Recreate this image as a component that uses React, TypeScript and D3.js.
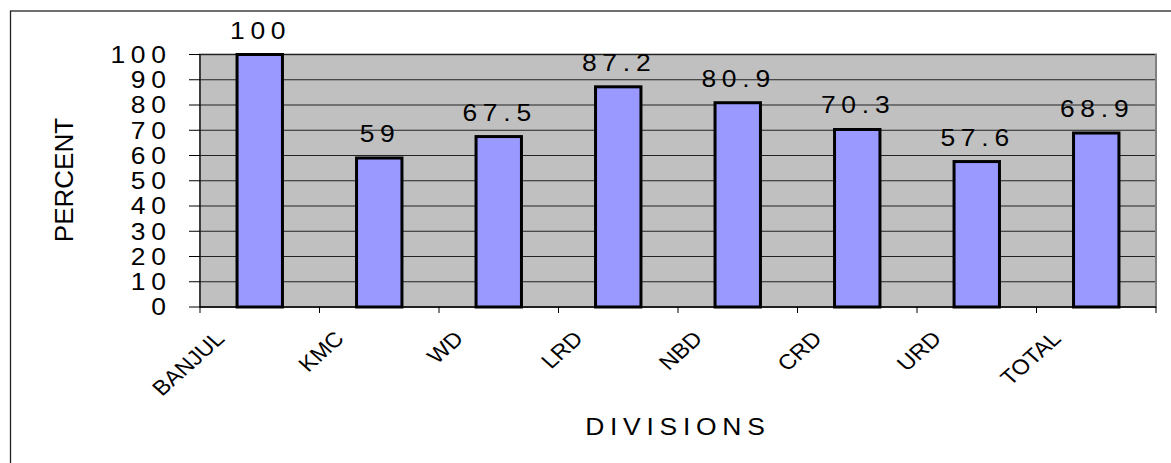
import React from "react";
import * as d3 from "d3";

const categories = ["BANJUL", "KMC", "WD", "LRD", "NBD", "CRD", "URD", "TOTAL"];
const values = [100, 59, 67.5, 87.2, 80.9, 70.3, 57.6, 68.9];
const yTicks = [0, 10, 20, 30, 40, 50, 60, 70, 80, 90, 100];

const W = 1171;
const H = 463;
const plot = { left: 200, right: 1156, top: 54.5, bottom: 307 };
const FONT = "'Liberation Sans', Arial, Helvetica, sans-serif";
const SX = 1.15;
const LS = 5;

function Spaced(props: { x: number; y: number; anchor: "end" | "middle" | "start"; size: number; children: any }) {
  const { x, y, anchor, size, children } = props;
  const lx = anchor === "end" ? LS : anchor === "middle" ? LS / 2 : 0;
  return (
    <text
      x={lx}
      y={0}
      transform={`translate(${x} ${y}) scale(${SX} 1)`}
      textAnchor={anchor}
      fontSize={size}
      letterSpacing={LS}
      fill="#000"
    >
      {children}
    </text>
  );
}

export default function App() {
  const x = d3.scaleBand<string>().domain(categories).range([plot.left, plot.right]).padding(0);
  const y = d3.scaleLinear().domain([0, 100]).range([plot.bottom, plot.top]);
  const bw = x.bandwidth() * 0.38;

  return (
    <svg
      width={W}
      height={H}
      style={{ position: "absolute", left: 0, top: 0, background: "#fff" }}
      fontFamily={FONT}
    >
      <rect x={10.5} y={11} width={1200} height={500} fill="#fff" stroke="#222" strokeWidth={1.3} />
      {/* plot area */}
      <rect
        x={plot.left}
        y={plot.top}
        width={plot.right - plot.left}
        height={plot.bottom - plot.top}
        fill="#C0C0C0"
        stroke="#808080"
        strokeWidth={2}
      />
      {/* gridlines */}
      {yTicks.slice(1).map((t) => (
        <line key={"g" + t} x1={plot.left} x2={plot.right - 1} y1={y(t)} y2={y(t)} stroke="#222" strokeWidth={1} />
      ))}
      {/* bars */}
      {categories.map((c, i) => {
        const cx = (x(c) as number) + x.bandwidth() / 2;
        return (
          <rect
            key={"b" + c}
            x={cx - bw / 2}
            y={y(values[i])}
            width={bw}
            height={y(0) - y(values[i])}
            fill="#9999FF"
            stroke="#000"
            strokeWidth={3}
          />
        );
      })}
      {/* axes */}
      <line x1={plot.left} x2={plot.left} y1={plot.top} y2={plot.bottom} stroke="#111" strokeWidth={1.2} />
      <line x1={plot.left} x2={plot.right} y1={plot.bottom} y2={plot.bottom} stroke="#000" strokeWidth={1.5} />
      {yTicks.map((t) => (
        <g key={"yt" + t}>
          <line x1={plot.left - 11} x2={plot.left} y1={y(t)} y2={y(t)} stroke="#000" strokeWidth={1} />
          <Spaced x={166} y={y(t) + 8.3} anchor="end" size={23}>
            {t}
          </Spaced>
        </g>
      ))}
      {categories.map((c) => (
        <line
          key={"xt" + c}
          x1={x(c) as number}
          x2={x(c) as number}
          y1={plot.bottom}
          y2={plot.bottom + 6}
          stroke="#000"
          strokeWidth={1}
        />
      ))}
      <line x1={plot.right} x2={plot.right} y1={plot.bottom} y2={plot.bottom + 6} stroke="#000" strokeWidth={1} />
      {/* x labels */}
      {categories.map((c) => {
        const cx = (x(c) as number) + x.bandwidth() / 2;
        const ax = cx - 34;
        const ay = 340;
        return (
          <text
            key={"xl" + c}
            x={0}
            y={0}
            textAnchor="end"
            fontSize={21}
            fill="#000"
            transform={`translate(${ax} ${ay}) scale(1.12 1) rotate(-45)`}
          >
            {c}
          </text>
        );
      })}
      {/* data labels */}
      {categories.map((c, i) => {
        const cx = (x(c) as number) + x.bandwidth() / 2;
        return (
          <Spaced key={"dl" + c} x={cx - 2} y={y(values[i]) - 16} anchor="middle" size={23}>
            {String(values[i])}
          </Spaced>
        );
      })}
      {/* titles */}
      <text
        x={0}
        y={0}
        transform={`translate(73 180) rotate(-90)`}
        textAnchor="middle"
        fontSize={26}
        fill="#000"
      >
        PERCENT
      </text>
      <Spaced x={675} y={435} anchor="middle" size={23}>
        DIVISIONS
      </Spaced>
    </svg>
  );
}
